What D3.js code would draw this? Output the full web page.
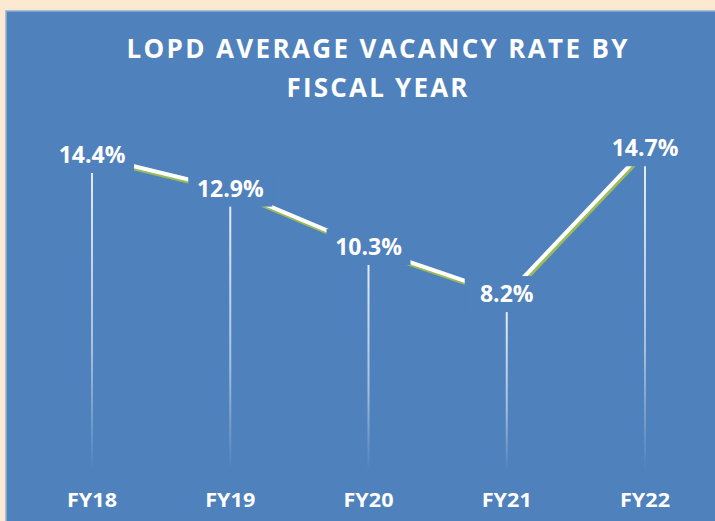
<!DOCTYPE html>
<html>
<head>
<meta charset="utf-8">
<script src="https://cdn.jsdelivr.net/npm/d3@7"></script>
<style>
  body { margin: 0; background: #fde9d1; }
  svg { display: block; }
  text { font-family: "Open Sans", "Noto Sans", sans-serif; fill: #fff; font-weight: bold; }
</style>
</head>
<body>
<svg id="chart"></svg>
<script>
var width = 715,
    height = 521;

var years = ["FY18", "FY19", "FY20", "FY21", "FY22"];
var rates = [14.4, 12.9, 10.3, 8.2, 14.7];
var titleLines = ["LOPD AVERAGE VACANCY RATE BY", "FISCAL YEAR"];

var svg = d3.select("#chart")
    .attr("width", width)
    .attr("height", height);

var defs = svg.append("defs");
var grad = defs.append("linearGradient")
    .attr("id", "dropfade")
    .attr("x1", 0).attr("y1", 0).attr("x2", 0).attr("y2", 1);
grad.append("stop").attr("offset", "0%").attr("stop-color", "#fff").attr("stop-opacity", 0.85);
grad.append("stop").attr("offset", "60%").attr("stop-color", "#fff").attr("stop-opacity", 0.5);
grad.append("stop").attr("offset", "100%").attr("stop-color", "#fff").attr("stop-opacity", 0);

// panel
svg.append("rect")
    .attr("x", 6)
    .attr("y", 11)
    .attr("width", width)
    .attr("height", height)
    .attr("fill", "#4f81bd")
    .attr("stroke", "#8fb0d8")
    .attr("stroke-width", 1.5);

var x = d3.scalePoint().domain(years).range([92, 645]);
var y = d3.scaleLinear().domain([0, 14.4]).range([479, 156]);

// title, spaced out to the original width
var titleW = [501, 181];
svg.selectAll(".title")
    .data(titleLines)
  .enter().append("text")
    .attr("class", "title")
    .attr("x", 377)
    .attr("y", function(d, i) { return 58 + i * 39; })
    .attr("text-anchor", "middle")
    .attr("textLength", function(d, i) { return titleW[i]; })
    .attr("lengthAdjust", "spacing")
    .style("font-size", "26px")
    .text(function(d) { return d; });

var pts = years.map(function(d, i) { return {year: d, v: rates[i]}; });

// drop lines
svg.selectAll(".drop")
    .data(pts)
  .enter().append("rect")
    .attr("class", "drop")
    .attr("x", function(d) { return x(d.year) - 1; })
    .attr("y", function(d) { return y(d.v) + 16; })
    .attr("width", 2)
    .attr("height", function(d) { return y(0) - 8 - (y(d.v) + 16); })
    .attr("fill", "url(#dropfade)");

var line = d3.line()
    .x(function(d) { return x(d.year); })
    .y(function(d) { return y(d.v); });

// green shadow then white line
svg.append("path")
    .datum(pts)
    .attr("d", line)
    .attr("transform", "translate(1.5,2.5)")
    .attr("fill", "none")
    .attr("stroke", "#9bbb59")
    .attr("stroke-width", 4);

svg.append("path")
    .datum(pts)
    .attr("d", line)
    .attr("fill", "none")
    .attr("stroke", "#fff")
    .attr("stroke-width", 4);

// label backgrounds hide the line near each point
var lab = svg.selectAll(".lab")
    .data(pts)
  .enter().append("g")
    .attr("class", "lab")
    .attr("transform", function(d) { return "translate(" + x(d.year) + "," + y(d.v) + ")"; });

lab.append("rect")
    .attr("x", -42)
    .attr("y", -19)
    .attr("width", 84)
    .attr("height", 36)
    .attr("fill", "#4f81bd");

lab.append("text")
    .attr("text-anchor", "middle")
    .attr("y", 7)
    .style("font-size", "23px")
    .text(function(d) { return d.v.toFixed(1) + "%"; });

// x labels
svg.selectAll(".xl")
    .data(years)
  .enter().append("text")
    .attr("class", "xl")
    .attr("x", function(d) { return x(d); })
    .attr("y", 507)
    .attr("text-anchor", "middle")
    .attr("textLength", 50)
    .attr("lengthAdjust", "spacingAndGlyphs")
    .style("font-size", "19px")
    .text(function(d) { return d; });
</script>
</body>
</html>
